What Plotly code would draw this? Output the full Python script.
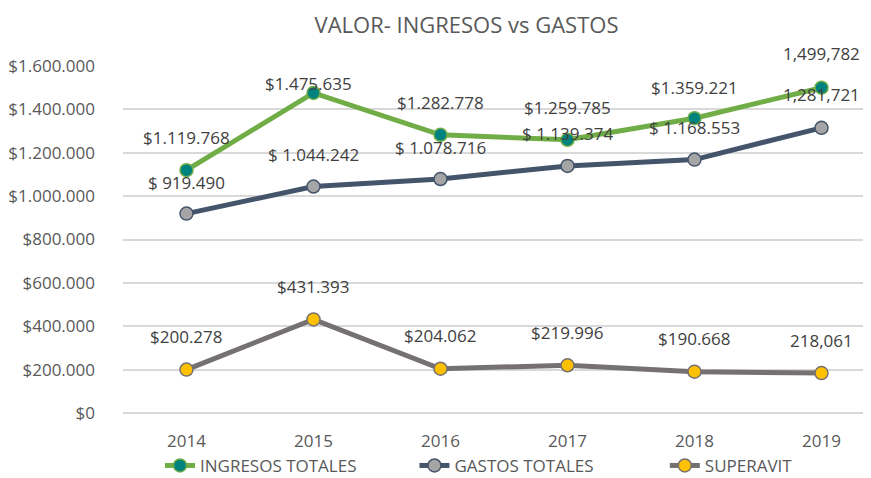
import plotly.graph_objects as go

years = ["2014", "2015", "2016", "2017", "2018", "2019"]

ingresos = [1119768, 1475635, 1282778, 1259785, 1359221, 1499782]
gastos = [919490, 1044242, 1078716, 1139374, 1168553, 1315000]
superavit = [200278, 431393, 204062, 219996, 190668, 184000]

ingresos_labels = ["$1.119.768", "$1.475.635", "$1.282.778", "$1.259.785", "$1.359.221", "1,499,782"]
gastos_labels = ["$ 919.490", "$ 1.044.242", "$ 1.078.716", "$ 1.139.374", "$ 1.168.553", "1,281,721"]
superavit_labels = ["$200.278", "$431.393", "$204.062", "$219.996", "$190.668", "218,061"]

series_names = ["INGRESOS TOTALES", "GASTOS TOTALES", "SUPERAVIT"]

y_tickvals = [0, 200000, 400000, 600000, 800000, 1000000, 1200000, 1400000, 1600000]
y_ticktext = ["$0", "$200.000", "$400.000", "$600.000", "$800.000",
              "$1.000.000", "$1.200.000", "$1.400.000", "$1.600.000"]

x_num = [int(y) for y in years]

FONT = "Open Sans"
TXT = "#595959"

styles = [
    ("#70AD47", "#00827F", "#70AD47"),
    ("#44546A", "#A5A5A5", "#44546A"),
    ("#767171", "#FFC000", "#767171"),
]
values = [ingresos, gastos, superavit]
labels_all = [ingresos_labels, gastos_labels, superavit_labels]

# label offsets (pixels) - styling only
label_yshift = [
    [33, 9, 32, 32, 31, 34],
    [31, 32, 32, 32, 32, 33],
    [33, 33, 33, 33, 33, 33],
]
label_xshift = [
    [0, -5, 0, 0, 0, 0],
    [0, 0, 0, 0, 0, 0],
    [0, 0, 0, 0, 0, 0],
]
legend_pad = [12, 15, 0]  # trailing spacing in legend entries

fig = go.Figure()
annotations = []
for k, name in enumerate(series_names):
    lc, mc, mlc = styles[k]
    vals = values[k]
    fig.add_trace(go.Scatter(
        x=x_num, y=vals, name=name + "\u00a0" * legend_pad[k],
        mode="lines+markers",
        line=dict(color=lc, width=5),
        marker=dict(size=13, color=mc, line=dict(color=mlc, width=1.5)),
        hoverinfo="skip",
    ))
    for i, (xv, v, t) in enumerate(zip(x_num, vals, labels_all[k])):
        annotations.append(dict(
            x=xv, y=v, xref="x", yref="y", text=t, showarrow=False,
            yshift=label_yshift[k][i], xshift=label_xshift[k][i],
            font=dict(family=FONT, size=17, color="#404040"),
        ))

W, H = 863, 470
PL, PB, PW, PH = 115, 65, 748, 347.6
fig.update_layout(
    width=W, height=H,
    margin=dict(l=PL, r=0, t=58, b=PB, autoexpand=False),
    paper_bgcolor="white", plot_bgcolor="white",
    title=dict(text="VALOR- INGRESOS vs GASTOS", x=458.5 / W, xref="container",
               y=(H - 17.5) / H, yanchor="middle", xanchor="center",
               font=dict(family=FONT, size=22, color=TXT)),
    font=dict(family=FONT, size=17, color=TXT),
    xaxis=dict(range=[x_num[0] - 0.5, x_num[0] - 0.5 + 748 / 127],
               tickvals=x_num, ticktext=years,
               showgrid=False, showline=False, zeroline=False, ticks="",
               ticklabelstandoff=16,
               tickfont=dict(family=FONT, size=17, color=TXT)),
    yaxis=dict(range=[0, 1600000], tickvals=y_tickvals, ticktext=y_ticktext,
               showgrid=True, gridcolor="#D9D9D9", gridwidth=1.5,
               zeroline=True, zerolinecolor="#D9D9D9", zerolinewidth=1.5,
               showline=False, ticks="", ticklabelstandoff=27,
               tickfont=dict(family=FONT, size=17, color=TXT)),
    legend=dict(orientation="h",
                x=(152 - PL) / PW, xanchor="left",
                y=-(458 - (H - PB)) / PH, yanchor="middle",
                font=dict(family=FONT, size=17, color=TXT),
                itemwidth=30, tracegroupgap=0),
    annotations=annotations,
    showlegend=True,
)

fig.write_html("out.html")
